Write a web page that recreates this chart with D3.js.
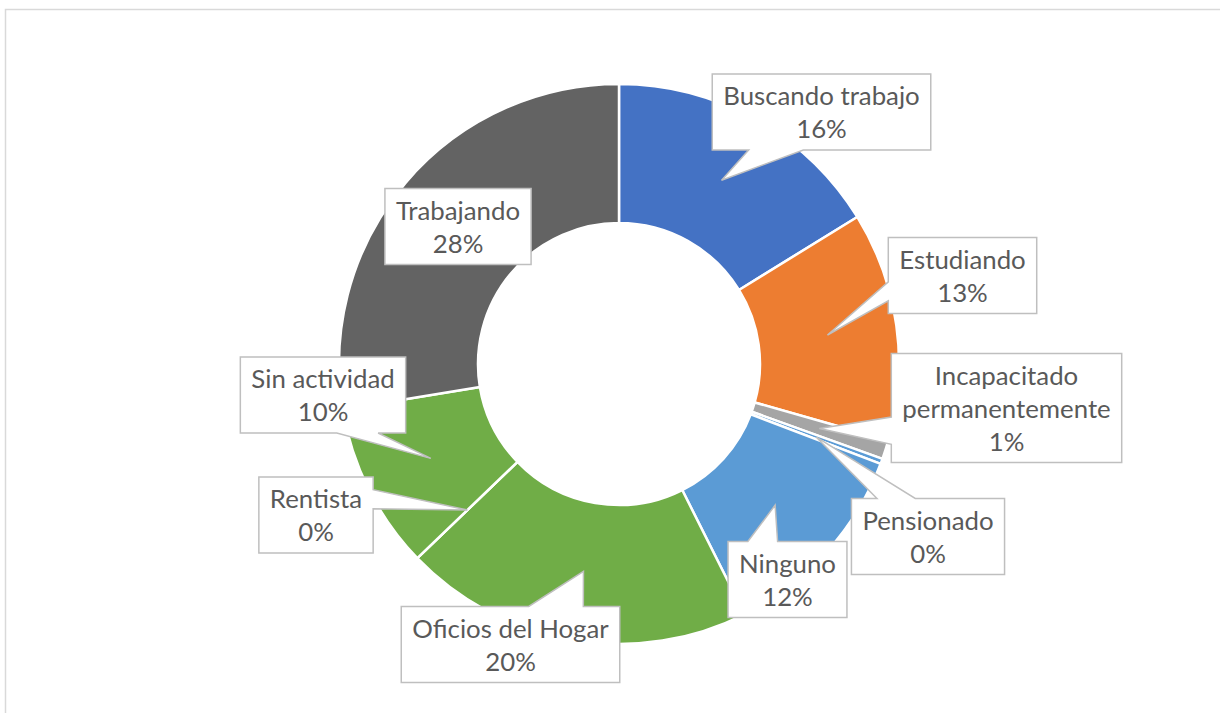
<!DOCTYPE html>
<html>
<head>
<meta charset="utf-8">
<script src="https://cdn.jsdelivr.net/npm/d3@7"></script>
<style>
  body { margin: 0; background: #fff; }
  svg { display: block; }
  .label text { font-family: Lato, sans-serif; font-size: 25.8px; fill: #595959; }
</style>
</head>
<body>
<script>
const width = 1220, height = 713;

// data (percent of total)
const categories = ['Buscando trabajo', 'Estudiando', 'Incapacitado permanentemente', 'Pensionado',
  'Ninguno', 'Oficios del Hogar', 'Rentista', 'Sin actividad', 'Trabajando'];
const values = [16.2, 13.2, 1.1, 0.3, 11.8, 20.2, 0, 9.6, 27.6];
const colors = ['#4472C4', '#ED7D31', '#A5A5A5', '#5B9BD5', '#5B9BD5', '#70AD47', '#264478', '#70AD47', '#636363'];
// centre of each callout box, relative to the donut centre
const labelOffsets = [[202.5, -252], [343.5, -88.5], [387.5, 44], [309, 172.5], [168.5, 215.5],
  [-108.5, 280.5], [-303, 151], [-296, 31], [-161, -137.5]];

const cx = 619, cy = 364, outerR = 280, innerR = 141;
const lineH = 33;

const data = categories.map((c, i) => ({ name: c, value: values[i], color: colors[i], off: labelOffsets[i] }));
const total = d3.sum(values);

const svg = d3.select('body').append('svg')
  .attr('width', width)
  .attr('height', height);

// chart area border (runs off the right / bottom of the picture)
svg.append('rect')
  .attr('x', 5.5).attr('y', 9.5)
  .attr('width', 1300).attr('height', 800)
  .attr('fill', 'none')
  .attr('stroke', '#d9d9d9')
  .attr('stroke-width', 1.5);

const pie = d3.pie().sort(null).value((d) => d.value);
const arc = d3.arc().innerRadius(innerR).outerRadius(outerR);
const arcs = pie(data);

const g = svg.append('g').attr('transform', `translate(${cx},${cy})`);

g.selectAll('path.slice')
  .data(arcs)
  .join('path')
  .attr('class', 'slice')
  .attr('d', arc)
  .attr('fill', (d) => d.data.color)
  .attr('stroke', '#fff')
  .attr('stroke-width', 2.5)
  .attr('stroke-linejoin', 'round');

// rectangular callout like office's wedgeRectCallout
function calloutPath(l, t, r, b, tx, ty) {
  const w = r - l, h = b - t, hc = (l + r) / 2, vc = (t + b) / 2;
  const dxPos = tx - hc, dyPos = ty - vc;
  const inside = tx >= l && tx <= r && ty >= t && ty <= b;
  const x1 = l + w * (dxPos > 0 ? 7 : 2) / 12, x2 = l + w * (dxPos > 0 ? 10 : 5) / 12;
  const y1 = t + h * (dyPos > 0 ? 7 : 2) / 12, y2 = t + h * (dyPos > 0 ? 10 : 5) / 12;
  const vert = Math.abs(dyPos) >= Math.abs(dxPos * h / w);
  let side = null;
  if (!inside) side = vert ? (dyPos < 0 ? 'top' : 'bottom') : (dxPos < 0 ? 'left' : 'right');
  const p = d3.path();
  p.moveTo(l, t);
  if (side === 'top') { p.lineTo(x1, t); p.lineTo(tx, ty); p.lineTo(x2, t); }
  p.lineTo(r, t);
  if (side === 'right') { p.lineTo(r, y1); p.lineTo(tx, ty); p.lineTo(r, y2); }
  p.lineTo(r, b);
  if (side === 'bottom') { p.lineTo(x2, b); p.lineTo(tx, ty); p.lineTo(x1, b); }
  p.lineTo(l, b);
  if (side === 'left') { p.lineTo(l, y2); p.lineTo(tx, ty); p.lineTo(l, y1); }
  p.closePath();
  return p.toString();
}

const labels = g.selectAll('g.label')
  .data(arcs)
  .join('g')
  .attr('class', 'label');

labels.each(function (d) {
  const sel = d3.select(this);
  const words = d.data.name.length > 20 ? d.data.name.split(' ') : [d.data.name];
  const lines = words.concat([Math.round(d.data.value / total * 100) + '%']);
  const [ox, oy] = d.data.off;
  const path = sel.append('path');
  const txt = sel.append('text').attr('text-anchor', 'middle');
  lines.forEach((ln, i) => {
    txt.append('tspan')
      .attr('x', ox)
      .attr('y', oy - (lines.length - 1) / 2 * lineH + 9.5 + i * lineH)
      .text(ln);
  });
  let tw = 0;
  txt.selectAll('tspan').each(function () { tw = Math.max(tw, this.getComputedTextLength()); });
  const bw = tw + 22, bh = lines.length * lineH + 10;
  const [tx, ty] = arc.centroid(d);
  path.attr('d', calloutPath(ox - bw / 2, oy - bh / 2, ox + bw / 2, oy + bh / 2, tx, ty))
    .attr('fill', '#fff')
    .attr('stroke', '#bfbfbf')
    .attr('stroke-width', 1.5)
    .attr('stroke-linejoin', 'miter');
});
</script>
</body>
</html>
